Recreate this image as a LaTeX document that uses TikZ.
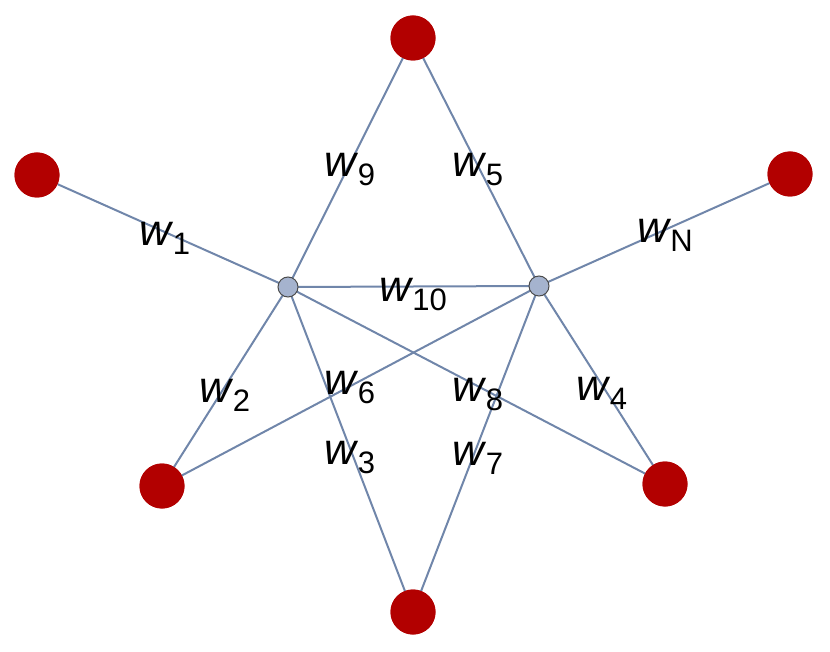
\documentclass[tikz,border=0pt]{standalone}
\usepackage{fontspec}
\setmainfont{Liberation Sans}
\begin{document}
\begin{tikzpicture}[x=1pt,y=-1pt,
  red/.style={circle,fill=red!70!black,minimum size=45pt,inner sep=0pt},
  hub/.style={circle,fill=hc,draw=black!70,line width=1pt,minimum size=20pt,inner sep=0pt},
  lab/.style={font=\fontsize{44}{44}\selectfont,inner sep=0pt}]
\useasboundingbox (0,0) rectangle (830,652);
\definecolor{ec}{HTML}{7086AA}
\definecolor{hc}{HTML}{A5B3CE}
\node[red] (t) at (413,38) {};
\node[red] (l) at (37,175) {};
\node[red] (r) at (790,174) {};
\node[red] (bl) at (162,486) {};
\node[red] (br) at (665,484) {};
\node[red] (b) at (413,612) {};
\coordinate (LL) at (288,287);
\coordinate (RR) at (539,286);
\begin{scope}[every path/.style={draw=ec,line width=2pt}]
\path (l) -- (LL);
\path (LL) -- (bl.center);
\path (LL) -- (b.center);
\path (RR) -- (br.center);
\path (t.center) -- (RR);
\path (RR) -- (bl.center);
\path (RR) -- (b.center);
\path (LL) -- (br.center);
\path (t.center) -- (LL);
\path (LL) -- (RR);
\path (RR) -- (r.center);
\end{scope}
\node[red] at (t) {};\node[red] at (l) {};\node[red] at (r) {};
\node[red] at (bl) {};\node[red] at (br) {};\node[red] at (b) {};
\node[hub] (L) at (LL) {};
\node[hub] (R) at (RR) {};
\newcommand{\wl}[1]{\textit{w}\kern-1pt\raisebox{-9pt}{\fontsize{31}{31}\selectfont #1}}
\node[lab] at (165,238) {\wl{1}};
\node[lab] at (350,170) {\wl{9}};
\node[lab] at (478,170) {\wl{5}};
\node[lab] at (665,235) {\wl{N}};
\node[lab] at (413,295) {\wl{10}};
\node[lab] at (225,395) {\wl{2}};
\node[lab] at (350,388) {\wl{6}};
\node[lab] at (478,395) {\wl{8}};
\node[lab] at (602,393) {\wl{4}};
\node[lab] at (350,458) {\wl{3}};
\node[lab] at (478,458) {\wl{7}};
\end{tikzpicture}
\end{document}
